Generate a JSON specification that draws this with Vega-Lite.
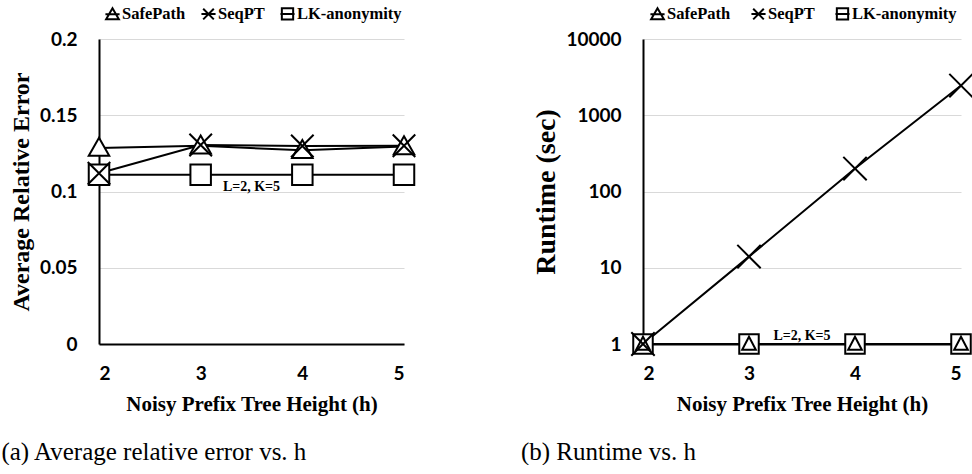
{
  "$schema": "https://vega.github.io/schema/vega-lite/v6.json",
  "background": "white",
  "padding": {"left": 1, "top": 5, "right": 0, "bottom": 0},
  "spacing": 100,
  "datasets": {
    "err": [
      {"h": 2, "series": "LK-anonymity", "value": 0.111},
      {"h": 3, "series": "LK-anonymity", "value": 0.111},
      {"h": 4, "series": "LK-anonymity", "value": 0.111},
      {"h": 5, "series": "LK-anonymity", "value": 0.111},
      {"h": 2, "series": "SafePath", "value": 0.1285},
      {"h": 3, "series": "SafePath", "value": 0.130},
      {"h": 4, "series": "SafePath", "value": 0.127},
      {"h": 5, "series": "SafePath", "value": 0.1295},
      {"h": 2, "series": "SeqPT", "value": 0.112},
      {"h": 3, "series": "SeqPT", "value": 0.1305},
      {"h": 4, "series": "SeqPT", "value": 0.1298},
      {"h": 5, "series": "SeqPT", "value": 0.130}
    ],
    "rt": [
      {"h": 2, "series": "LK-anonymity", "value": 1},
      {"h": 3, "series": "LK-anonymity", "value": 1},
      {"h": 4, "series": "LK-anonymity", "value": 1},
      {"h": 5, "series": "LK-anonymity", "value": 1},
      {"h": 2, "series": "SafePath", "value": 1},
      {"h": 3, "series": "SafePath", "value": 1},
      {"h": 4, "series": "SafePath", "value": 1},
      {"h": 5, "series": "SafePath", "value": 1},
      {"h": 2, "series": "SeqPT", "value": 1},
      {"h": 3, "series": "SeqPT", "value": 14},
      {"h": 4, "series": "SeqPT", "value": 200},
      {"h": 5, "series": "SeqPT", "value": 2450}
    ]
  },
  "config": {
    "view": {"stroke": null},
    "axis": {
      "domainColor": "black",
      "domainWidth": 2,
      "ticks": false,
      "labelFont": "Lato",
      "labelFontWeight": "bold",
      "labelFontSize": 19,
      "labelColor": "black",
      "titleFont": "Liberation Serif",
      "titleFontWeight": "bold",
      "titleFontSize": 24,
      "titleColor": "black",
      "gridColor": "#d9d9d9",
      "gridWidth": 1
    },
    "axisX": {"grid": false, "labelPadding": 20, "titlePadding": 10, "titleFontSize": 21},
    "axisY": {"grid": true, "labelPadding": 22, "titlePadding": 6},
    "legend": {
      "orient": "none",
      "direction": "horizontal",
      "title": null,
      "labelFont": "Liberation Serif",
      "labelFontWeight": "bold",
      "labelFontSize": 16.5,
      "labelColor": "black",
      "symbolStrokeColor": "black",
      "symbolFillColor": "white",
      "symbolStrokeWidth": 2,
      "symbolSize": 200,
      "symbolOpacity": 1,
      "labelOffset": 1,
      "columnPadding": 11
    },
    "title": {"font": "Liberation Serif", "fontSize": 25, "fontWeight": "normal", "color": "black"}
  },
  "resolve": {"scale": {"shape": "independent", "y": "independent", "x": "independent"}, "legend": {"shape": "independent"}},
  "hconcat": [
    {
      "width": 305,
      "height": 305,
      "title": {"text": "(a) Average relative error vs. h", "orient": "bottom", "anchor": "start", "offset": 26, "dx": -8},
      "resolve": {"scale": {"shape": "independent"}, "legend": {"shape": "independent"}},
      "layer": [
        {
          "data": {"name": "err"},
          "mark": {"type": "line", "color": "black", "strokeWidth": 2},
          "encoding": {
            "x": {"field": "h", "type": "quantitative", "scale": {"domain": [2, 5], "nice": false}, "axis": {"values": [2, 3, 4, 5], "title": "Noisy Prefix Tree Height (h)", "format": "d"}},
            "y": {"field": "value", "type": "quantitative", "scale": {"domain": [0, 0.2], "nice": false}, "axis": {"values": [0, 0.05, 0.1, 0.15, 0.2], "format": "~g", "title": "Average Relative Error"}},
            "detail": {"field": "series"}
          }
        },
        {
          "data": {"name": "err"},
          "mark": {"type": "point", "filled": false, "fill": "white", "fillOpacity": 1, "stroke": "black", "strokeWidth": 2, "opacity": 1, "size": 420},
          "encoding": {
            "x": {"field": "h", "type": "quantitative"},
            "y": {"field": "value", "type": "quantitative"},
            "shape": {"field": "series", "type": "nominal", "scale": {"domain": ["SafePath", "SeqPT", "LK-anonymity"], "range": ["M0,-1L1,0.75H-1Z", "M-1.1,-1.1L1.1,1.1M-1.1,1.1L1.1,-1.1", "M-1,-1H1V1H-1Z"]}, "legend": null}
          }
        },
        {
          "data": {"name": "err"},
          "mark": {"type": "point", "filled": false, "opacity": 0, "size": 0},
          "encoding": {
            "x": {"field": "h", "type": "quantitative"},
            "y": {"field": "value", "type": "quantitative"},
            "shape": {"field": "series", "type": "nominal", "scale": {"domain": ["SafePath", "SeqPT", "LK-anonymity"], "range": ["M0,-0.85L0.9,0.7H-0.9ZM-1,0H1", "M-0.75,-0.75L0.75,0.75M-0.75,0.75L0.75,-0.75M-1,0H1", "M-0.8,-0.8H0.8V0.8H-0.8ZM-1,0H1"]}, "legend": {"legendX": 5, "legendY": -34, "symbolOpacity": 1, "symbolSize": 200}}
          }
        },
        {
          "data": {"values": [{"h": 3.5, "value": 0.103, "label": "L=2, K=5"}]},
          "mark": {"type": "text", "font": "Liberation Serif", "fontWeight": "bold", "fontSize": 14, "color": "black"},
          "encoding": {
            "x": {"field": "h", "type": "quantitative"},
            "y": {"field": "value", "type": "quantitative"},
            "text": {"field": "label"}
          }
        }
      ]
    },
    {
      "width": 318,
      "height": 305,
      "title": {"text": "(b) Runtime vs. h", "orient": "bottom", "anchor": "start", "offset": 26, "dx": -12},
      "resolve": {"scale": {"shape": "independent"}, "legend": {"shape": "independent"}},
      "layer": [
        {
          "data": {"name": "rt"},
          "mark": {"type": "line", "color": "black", "strokeWidth": 2},
          "encoding": {
            "x": {"field": "h", "type": "quantitative", "scale": {"domain": [2, 5], "nice": false}, "axis": {"values": [2, 3, 4, 5], "title": "Noisy Prefix Tree Height (h)", "format": "d"}},
            "y": {"field": "value", "type": "quantitative", "scale": {"type": "log", "domain": [1, 10000], "nice": false}, "axis": {"values": [1, 10, 100, 1000, 10000], "format": "d", "title": "Runtime (sec)", "titleFontSize": 28, "titlePadding": 5}},
            "detail": {"field": "series"}
          }
        },
        {
          "data": {"name": "rt"},
          "mark": {"type": "point", "filled": false, "fill": "white", "fillOpacity": 1, "stroke": "black", "strokeWidth": 2, "opacity": 1, "size": 380},
          "encoding": {
            "x": {"field": "h", "type": "quantitative"},
            "y": {"field": "value", "type": "quantitative"},
            "shape": {"field": "series", "type": "nominal", "scale": {"domain": ["SafePath", "SeqPT", "LK-anonymity"], "range": ["M0,-0.75L0.7,0.6H-0.7Z", "M-1.2,-1.2L1.2,1.2M-1.2,1.2L1.2,-1.2", "M-1,-1H1V1H-1Z"]}, "legend": null}
          }
        },
        {
          "data": {"name": "rt"},
          "mark": {"type": "point", "filled": false, "opacity": 0, "size": 0},
          "encoding": {
            "x": {"field": "h", "type": "quantitative"},
            "y": {"field": "value", "type": "quantitative"},
            "shape": {"field": "series", "type": "nominal", "scale": {"domain": ["SafePath", "SeqPT", "LK-anonymity"], "range": ["M0,-0.85L0.9,0.7H-0.9ZM-1,0H1", "M-0.75,-0.75L0.75,0.75M-0.75,0.75L0.75,-0.75M-1,0H1", "M-0.8,-0.8H0.8V0.8H-0.8ZM-1,0H1"]}, "legend": {"legendX": 6, "legendY": -34, "symbolOpacity": 1, "symbolSize": 200, "columnPadding": 16}}
          }
        },
        {
          "data": {"values": [{"h": 3.5, "value": 1.28, "label": "L=2, K=5"}]},
          "mark": {"type": "text", "font": "Liberation Serif", "fontWeight": "bold", "fontSize": 14, "color": "black"},
          "encoding": {
            "x": {"field": "h", "type": "quantitative"},
            "y": {"field": "value", "type": "quantitative"},
            "text": {"field": "label"}
          }
        }
      ]
    }
  ]
}
